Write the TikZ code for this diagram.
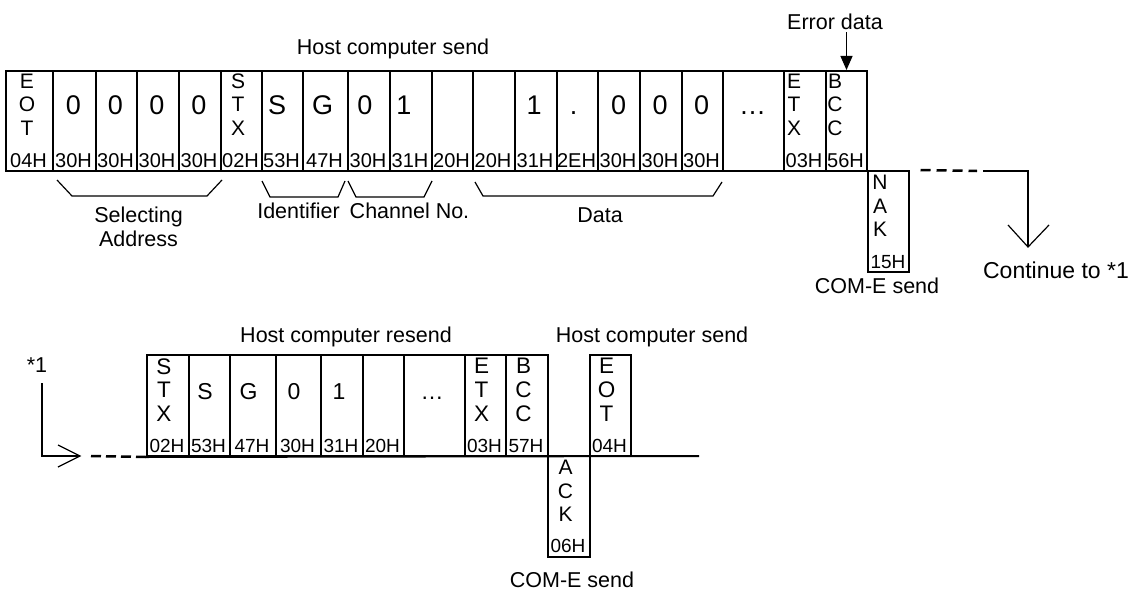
\documentclass[tikz,border=0pt]{standalone}
\usepackage{fontspec}
\setmainfont{Liberation Sans}
\usetikzlibrary{arrows.meta}
\begin{document}
\begin{tikzpicture}[x=1pt,y=-1pt,
  cell/.style={draw, line width=2pt, inner sep=0pt, minimum height=100pt},
  cellb/.style={draw, line width=2pt, inner sep=0pt, minimum height=101pt},
  lbl/.style={inner sep=0pt, anchor=base, font=\fontsize{21.5}{23.5}\selectfont},
  stk/.style={inner sep=0pt, align=center, font=\fontsize{21}{23.5}\selectfont},
  stkb/.style={inner sep=0pt, align=center, font=\fontsize{22.5}{23.75}\selectfont},
  bigt/.style={inner sep=0pt, anchor=base, font=\fontsize{27}{30}\selectfont},
  bigb/.style={inner sep=0pt, anchor=base, font=\fontsize{23}{26}\selectfont},
  hext/.style={inner sep=0pt, anchor=base, font=\fontsize{20}{22}\selectfont},
  hexb/.style={inner sep=0pt, anchor=base, font=\fontsize{19}{21}\selectfont},
  thinline/.style={line width=1.2pt},
  dashline/.style={line width=2.5pt, dash pattern=on 10pt off 6pt},
  dashlineb/.style={line width=2.5pt, dash pattern=on 10pt off 5pt},
]
\useasboundingbox (0,0) rectangle (1139,591);

% ---------------- top row ----------------
\foreach \n/\l/\r in {1/6/53,2/53/96,3/96/137,4/137/179,5/179/221,6/221/262,
  7/262/303,8/303/348,9/348/390,10/390/432,11/432/473,12/473/515,13/515/557,
  14/557/598,15/598/640,16/640/682,17/682/723,18/723/784,19/784/826,20/826/867}{
  \node[cell, minimum width={(\r-\l)*1pt}] (t\n) at ({(\l+\r)/2},121) {};
}
\coordinate (hyt) at (0,167);
\foreach \n/\hx in {1/04H,2/30H,3/30H,4/30H,5/30H,6/02H,7/53H,8/47H,9/30H,10/31H,
  11/20H,12/20H,13/31H,14/2EH,15/30H,16/30H,17/30H,19/03H,20/56H}{
  \node[hext] (th\n) at ([xshift=-1pt]t\n |- hyt) {\hx};
}
\foreach \n/\x/\c in {2/73.5/0,3/115.5/0,4/157/0,5/199/0,7/277/S,8/322.5/G,9/365/0,
  10/404/1,13/534/1,14/573.5/.,15/618.5/0,16/660/0,17/701.5/0,18/752.5/…}{
  \node[bigt] (tm\n) at (\x,114.5) {\c};
}
\node[stk] (ts1) at (27,104.5) {E\\O\\T};
\node[stk] (ts6) at (238,104.5) {S\\T\\X};
\node[stk] (ts19) at (794,104.5) {E\\T\\X};
\node[stk] (ts20) at (835,104.5) {B\\C\\C};

% NAK
\node[cellb, minimum width=41pt] (nak) at (888,221.5) {};
\node[stk] (naks) at (880,206) {N\\A\\K};
\node[hexb] (nakh) at (888,268.5) {15H};

% labels top
\node[lbl] (hcs1) at (393,55) {Host computer send};
\node[lbl] (err) at (835,30) {Error data};
\draw[thinline, -{Triangle[length=14pt,width=12pt]}, shorten <=2pt] (t20.north |- err.south) -- (t20.north);

% braces
\draw[thinline] (57,180) -- (72,196) -- (207,196) -- (222,180);
\draw[thinline] (262,181) -- (270,197) -- (338,197) -- (345,181);
\draw[thinline] (348,181) -- (356,197) -- (424,197) -- (432,181);
\draw[thinline] (475,182) -- (483,196) -- (713,196) -- (722,182);
\node[lbl, anchor=north, align=center] (sel) at (138.5,207) {Selecting\\Address};
\node[lbl] (idf) at (298.5,218) {Identifier};
\node[lbl] (chn) at (409.5,218) {Channel No.};
\node[lbl] (dat) at (600,222) {Data};
\node[lbl] (come1) at (877,293) {COM-E send};
\node[lbl, font=\fontsize{23}{25}\selectfont] (cont) at (1056,278) {Continue to *1};

% continue arrow
\coordinate (dA) at (977,171);
\coordinate (sA) at (983,171);
\coordinate (cB) at (1028,171);
\coordinate (cC) at (1028,247);
\draw[dashline] ([xshift=11pt]nak.north east) -- (dA);
\draw[thinline] (sA) -- (cB) -- (cC);
\draw[thinline] (cC) ++(-20,-22) -- (cC) -- ++(21,-22);

% ---------------- bottom row ----------------
\foreach \n/\l/\r in {1/147/189,2/189/230,3/230/276,4/276/321,5/321/363,6/363/404,
  7/404/465,8/465/506,9/506/548,10/590/631}{
  \node[cellb, minimum width={(\r-\l)*1pt}] (b\n) at ({(\l+\r)/2},405.5) {};
}
\coordinate (hyb) at (0,452);
\foreach \n/\hx in {1/02H,2/53H,3/47H,4/30H,5/31H,6/20H,8/03H,9/57H,10/04H}{
  \node[hexb] (bh\n) at ([xshift=-1pt]b\n |- hyb) {\hx};
}
\foreach \n/\x/\c in {2/205/S,3/248.5/G,4/294/0,5/339/1,7/432/…}{
  \node[bigb] (bm\n) at (\x,399.5) {\c};
}
\node[stkb] (bs1) at (164,390) {S\\T\\X};
\node[stkb] (bs8) at (481.5,390) {E\\T\\X};
\node[stkb] (bs9) at (523.5,390) {B\\C\\C};
\node[stkb] (bs10) at (606.5,390) {E\\O\\T};

% ACK
\node[cellb, minimum width=42pt] (ack) at (569,506.5) {};
\node[stk] (acks) at (565.5,491) {A\\C\\K};
\node[hexb] (ackh) at (568,552) {06H};

\coordinate (bEnd) at (699,456);
\draw[line width=2pt] (b1.south west) -- (bEnd);

% labels bottom
\node[lbl] (hcr) at (346,342) {Host computer resend};
\node[lbl] (hcs2) at (652,342) {Host computer send};
\node[lbl] (come2) at (572,587) {COM-E send};
\node[lbl] (star) at (37,372) {*1};

% *1 arrow
\coordinate (lA) at (42,383);
\coordinate (lB) at (42,456);
\coordinate (lC) at (80,456);
\coordinate (lD) at (91,456);
\draw[thinline] (lA) -- (lB) -- (lC);
\draw[thinline] (lC) ++(-22,-11) -- (lC) -- ++(-22,11);
\draw[dashlineb] (lD) -- (b1.south west);
\end{tikzpicture}
\end{document}
